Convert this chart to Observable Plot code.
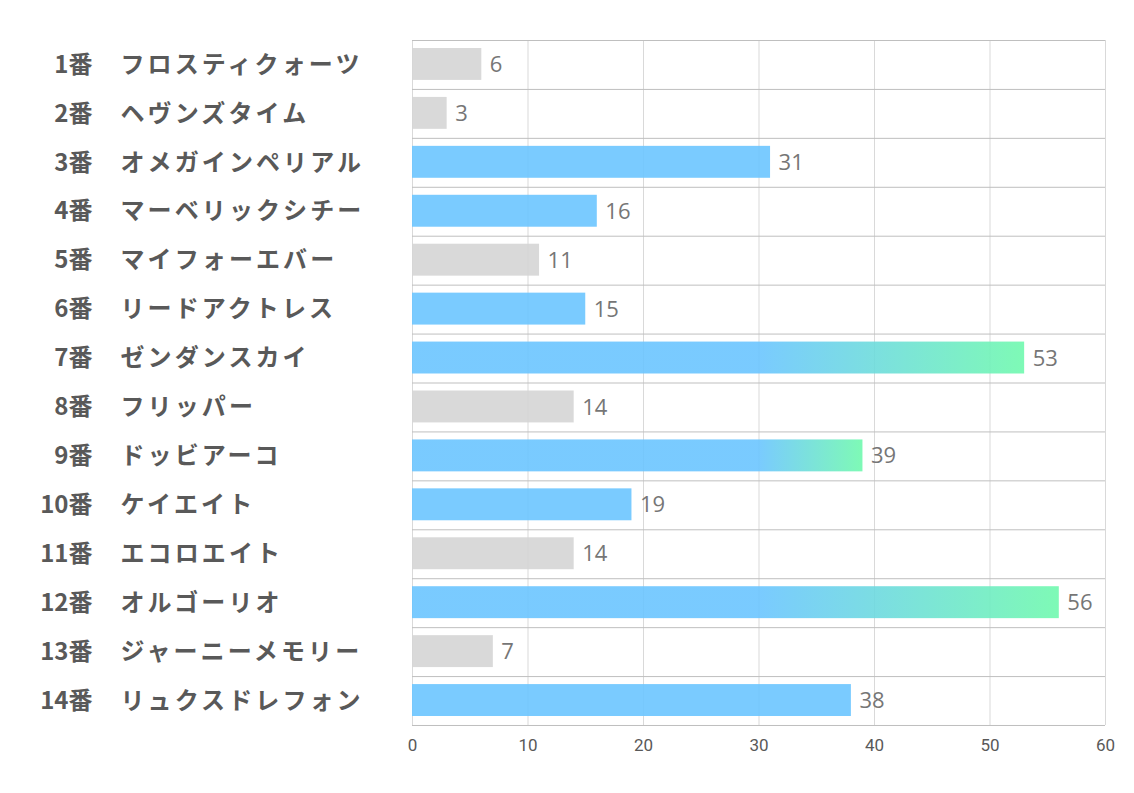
<!DOCTYPE html>
<html>
<head>
<meta charset="utf-8">
<script src="https://cdn.jsdelivr.net/npm/d3@7"></script>
<script src="https://cdn.jsdelivr.net/npm/@observablehq/plot@0.6"></script>
<style>
  html, body { margin: 0; padding: 0; background: #fff; }
  #chart { width: 1134px; height: 793px; }
</style>
</head>
<body>
<div id="chart"></div>
<script>
const nums = ["1番","2番","3番","4番","5番","6番","7番","8番","9番","10番","11番","12番","13番","14番"];
const names = ["フロスティクォーツ","ヘヴンズタイム","オメガインペリアル","マーベリックシチー","マイフォーエバー","リードアクトレス","ゼンダンスカイ","フリッパー","ドッビアーコ","ケイエイト","エコロエイト","オルゴーリオ","ジャーニーメモリー","リュクスドレフォン"];
const values = [6, 3, 31, 16, 11, 15, 53, 14, 39, 19, 14, 56, 7, 38];
const kinds = ["gray","gray","blue","blue","gray","blue","grad","gray","grad","blue","gray","grad","gray","blue"];
const xTicks = [0, 10, 20, 30, 40, 50, 60];
const gradStart = 30;

const colors = { gray: "#D5D5D5", blue: "#6BC5FF" };
const blueEnd = "#6BC5FF", greenEnd = "#70F9AE";

const data = nums.map((n, i) => ({ num: n, name: names[i], value: values[i], kind: kinds[i], id: i }));

const W = 1134, H = 793, mt = 40, mb = 68, ml = 412, mr = 29;
const step = (H - mt - mb) / nums.length;

const plot = Plot.plot({
  width: W, height: H,
  marginTop: mt, marginBottom: mb, marginLeft: ml, marginRight: mr,
  x: { domain: [0, 60], axis: null, label: null },
  y: { domain: nums, padding: 0, round: false, axis: null },
  style: { background: "#fff" },
  marks: [
    Plot.ruleX(xTicks, { stroke: "#d9d9d9", strokeWidth: 1 }),
    Plot.barX(data, {
      x: "value", y: "num", insetTop: 8, insetBottom: 9,
      fill: d => d.kind === "grad" ? `url(#grad${d.id})` : colors[d.kind],
      fillOpacity: 0.9
    }),
    Plot.ruleY(nums, { y: d => d, dy: -step / 2, stroke: "#bfbfbf", strokeWidth: 1 }),
    Plot.ruleY(nums.slice(-1), { y: d => d, dy: step / 2, stroke: "#bfbfbf", strokeWidth: 1 }),
    Plot.text(data, {
      x: "value", y: "num", text: d => String(d.value), dx: 8, textAnchor: "start",
      fontSize: 22, fill: "#767676", fontFamily: "'Open Sans', 'Noto Sans', sans-serif"
    }),
    Plot.text(data, {
      y: "num", text: "num", frameAnchor: "left", dx: -320, textAnchor: "end",
      fontSize: 24, fontWeight: "bold", fill: "#595959",
      fontFamily: "'Noto Sans CJK JP', sans-serif"
    }),
    Plot.text(data, {
      y: "num", text: "name", frameAnchor: "left", dx: -292, textAnchor: "start",
      fontSize: 24, fontWeight: "bold", fill: "#595959",
      fontFamily: "'Noto Sans CJK JP', sans-serif"
    }),
    // x tick labels
    Plot.text(xTicks, {
      x: d => d, text: d => String(d), frameAnchor: "bottom", dy: 25,
      fontSize: 17, fill: "#595959", fontFamily: "Roboto, 'Open Sans', sans-serif"
    })
  ]
});

const svg = d3.select(plot.tagName === "svg" ? plot : plot.querySelector("svg"));

// widen the horse names like the reference's spaced katakana
const nameSet = new Set(names);
svg.selectAll("text").filter(function () { return nameSet.has(this.textContent); })
  .style("letter-spacing", "3.1px");

// Gradients along x for the top picks, built from the plot's own x scale
const xs = plot.scale("x");
const defs = svg.insert("defs", ":first-child");
data.filter(d => d.kind === "grad").forEach(d => {
  const g = defs.append("linearGradient")
    .attr("id", `grad${d.id}`)
    .attr("gradientUnits", "userSpaceOnUse")
    .attr("x1", xs.apply(gradStart)).attr("x2", xs.apply(d.value))
    .attr("y1", 0).attr("y2", 0);
  g.append("stop").attr("offset", 0).attr("stop-color", blueEnd);
  g.append("stop").attr("offset", 1).attr("stop-color", greenEnd);
});

document.getElementById("chart").appendChild(plot);
</script>
</body>
</html>
